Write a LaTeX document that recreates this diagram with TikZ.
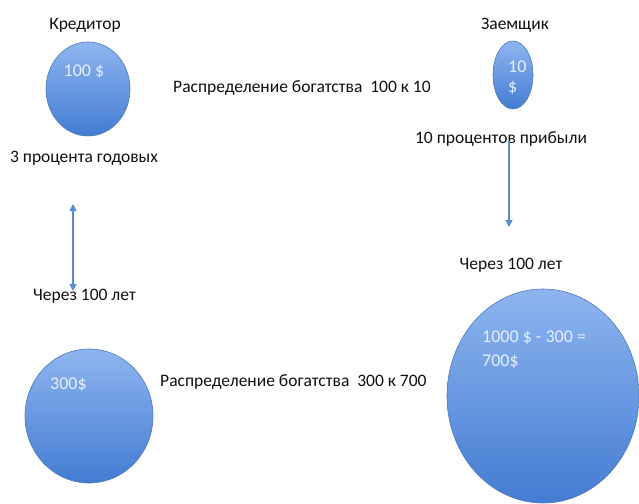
\documentclass[tikz,border=0pt]{standalone}
\usepackage{fontspec}
\setmainfont{Carlito}
\usetikzlibrary{shapes.geometric,arrows.meta,shadows}
\definecolor{ballTop}{HTML}{8EB5F0}
\definecolor{ballBot}{HTML}{437CD2}
\definecolor{ballEdge}{HTML}{4C7AB8}
\definecolor{arrowBlue}{HTML}{5A8AD0}
\definecolor{ballText}{HTML}{E4EEFC}
\definecolor{labelText}{HTML}{101010}
\tikzset{
  ball/.style={ellipse, draw=ballEdge, line width=0.6pt, top color=ballTop, bottom color=ballBot, inner sep=0pt},
  lbl/.style={font=\fontsize{17.5}{20}\selectfont, text=labelText, inner sep=0pt},
  intext/.style={font=\fontsize{18}{21}\selectfont, text=ballText, inner sep=0pt, align=left},
  conn/.style={draw=arrowBlue, line width=1.3pt, -{Triangle[length=7pt,width=7pt]}},
  dconn/.style={draw=arrowBlue, line width=1.3pt, {Triangle[length=7pt,width=7pt]}-{Triangle[length=7pt,width=7pt]}}
}
\begin{document}
\begin{tikzpicture}[x=1pt,y=-1pt]
\useasboundingbox (0,0) rectangle (639,503);
% balls
\node[ball, minimum width=84pt, minimum height=94pt] (b1) at (88,89) {};
\node[ball, minimum width=40pt, minimum height=68pt] (b2) at (513,75) {};
\node[ball, minimum width=128pt, minimum height=134pt] (b3) at (89,416) {};
\node[ball, minimum width=192pt, minimum height=214pt] (b4) at (543,396) {};
% texts inside balls
\node[intext] (t1) at (84,72) {100 \$};
\node[intext, anchor=north west] (t2) at (508,61) {10\\[-1pt]\$};
\node[intext, anchor=west] (t3) at (50,385) {300\$};
\node[intext, anchor=north west, font=\fontsize{18}{24}\selectfont] (t4) at (482,331) {1000 \$ - 300 =\\700\$};
% labels
\node[lbl] (kred) at (85,25) {Кредитор};
\node[lbl] (zaem) at (515,25) {Заемщик};
\node[lbl, anchor=west] (rasp1) at (173,88) {Распределение богатства \ 100 к 10};
\node[lbl] (proc10) at (501,139) {10 процентов прибыли};
\node[lbl] (proc3) at (84,158) {3 процента годовых};
\node[lbl, anchor=west] (cherez1) at (33,296) {Через 100 лет};
\node[lbl] (cherez2) at (511,265) {Через 100 лет};
\node[lbl, anchor=west] (rasp2) at (160,382) {Распределение богатства \ 300 к 700};
% connectors
\coordinate (a1) at (73,204);
\coordinate (a2) at (73,291);
\coordinate (c1) at (509,141);
\coordinate (c2) at (509,227);
\draw[dconn] (a1) -- (a2);
\draw[conn] (c1) -- (c2);
\end{tikzpicture}
\end{document}
